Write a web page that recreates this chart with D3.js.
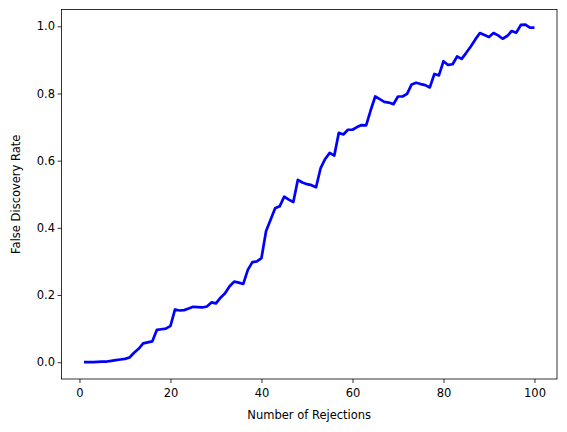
<!DOCTYPE html>
<html>
<head>
  <style>
    body { margin: 0; background: #fff; }
    text { font-family: "DejaVu Sans", sans-serif; }
  </style>
</head>
<body>
  <div id="chart"></div>
  <script src="https://d3js.org/d3.v7.min.js"></script>
  <script>
    // FDR at each number of rejections (1..100)
    const rejections = d3.range(1, 101);
    const fdr = [
      0.000, 0.000, 0.000, 0.001, 0.002, 0.002, 0.004, 0.006, 0.008, 0.010,
      0.014, 0.028, 0.040, 0.056, 0.059, 0.062, 0.096, 0.098, 0.100, 0.108,
      0.157, 0.154, 0.155, 0.160, 0.165, 0.164, 0.163, 0.166, 0.178, 0.175,
      0.192, 0.205, 0.226, 0.240, 0.237, 0.233, 0.275, 0.298, 0.300, 0.310,
      0.390, 0.424, 0.458, 0.464, 0.493, 0.484, 0.477, 0.543, 0.535, 0.530,
      0.527, 0.521, 0.578, 0.605, 0.623, 0.615, 0.683, 0.678, 0.692, 0.692,
      0.700, 0.706, 0.705, 0.750, 0.791, 0.783, 0.775, 0.773, 0.768, 0.791,
      0.791, 0.799, 0.827, 0.832, 0.828, 0.825, 0.818, 0.858, 0.854, 0.896,
      0.885, 0.887, 0.910, 0.903, 0.921, 0.940, 0.961, 0.980, 0.974, 0.968,
      0.980, 0.973, 0.963, 0.971, 0.986, 0.981, 1.004, 1.005, 0.996, 0.996
    ];
    const xTicks = [0, 20, 40, 60, 80, 100];
    const yTicks = [0, 0.2, 0.4, 0.6, 0.8, 1.0];

    const width = 567, height = 432;
    const margin = { top: 9.5, right: 10, bottom: 53, left: 61.5 };

    const svg = d3.select("#chart")
      .append("svg")
      .attr("width", width)
      .attr("height", height);

    const x = d3.scaleLinear()
      .domain([-3.95, 104.95])
      .range([margin.left, width - margin.right]);

    const y = d3.scaleLinear()
      .domain([-0.05, 1.05])
      .range([height - margin.bottom, margin.top]);

    const line = d3.line()
      .x((d, i) => x(rejections[i]))
      .y(d => y(d));

    svg.append("path")
      .datum(fdr)
      .attr("fill", "none")
      .attr("stroke", "#0000ff")
      .attr("stroke-width", 2.7)
      .attr("stroke-linejoin", "round")
      .attr("d", line);

    const xAxis = svg.append("g")
      .attr("transform", `translate(0, ${height - margin.bottom})`)
      .call(d3.axisBottom(x).tickValues(xTicks).tickFormat(d3.format("d")).tickSizeOuter(0).tickSize(4));

    const yAxis = svg.append("g")
      .attr("transform", `translate(${margin.left}, 0)`)
      .call(d3.axisLeft(y).tickValues(yTicks).tickFormat(d3.format(".1f")).tickSizeOuter(0).tickSize(4));

    [xAxis, yAxis].forEach(g => {
      g.select(".domain").remove();
      g.selectAll("text").attr("font-size", 11.5).attr("fill", "#000")
        .style("font-family", "DejaVu Sans");
      g.selectAll("line").attr("stroke", "#000").attr("stroke-width", 0.8);
    });
    xAxis.selectAll("text").attr("dy", "0.95em");
    yAxis.selectAll("text").attr("x", -6.5);

    // frame
    svg.append("rect")
      .attr("x", margin.left)
      .attr("y", margin.top)
      .attr("width", width - margin.left - margin.right)
      .attr("height", height - margin.top - margin.bottom)
      .attr("fill", "none")
      .attr("stroke", "#000")
      .attr("stroke-width", 0.8);

    svg.append("text")
      .attr("x", (margin.left + width - margin.right) / 2)
      .attr("y", 419)
      .attr("text-anchor", "middle")
      .attr("font-size", 11.5)
      .text("Number of Rejections");

    svg.append("text")
      .attr("transform", `translate(20, ${(margin.top + height - margin.bottom) / 2}) rotate(-90)`)
      .attr("text-anchor", "middle")
      .attr("font-size", 11.5)
      .text("False Discovery Rate");
  </script>
</body>
</html>
